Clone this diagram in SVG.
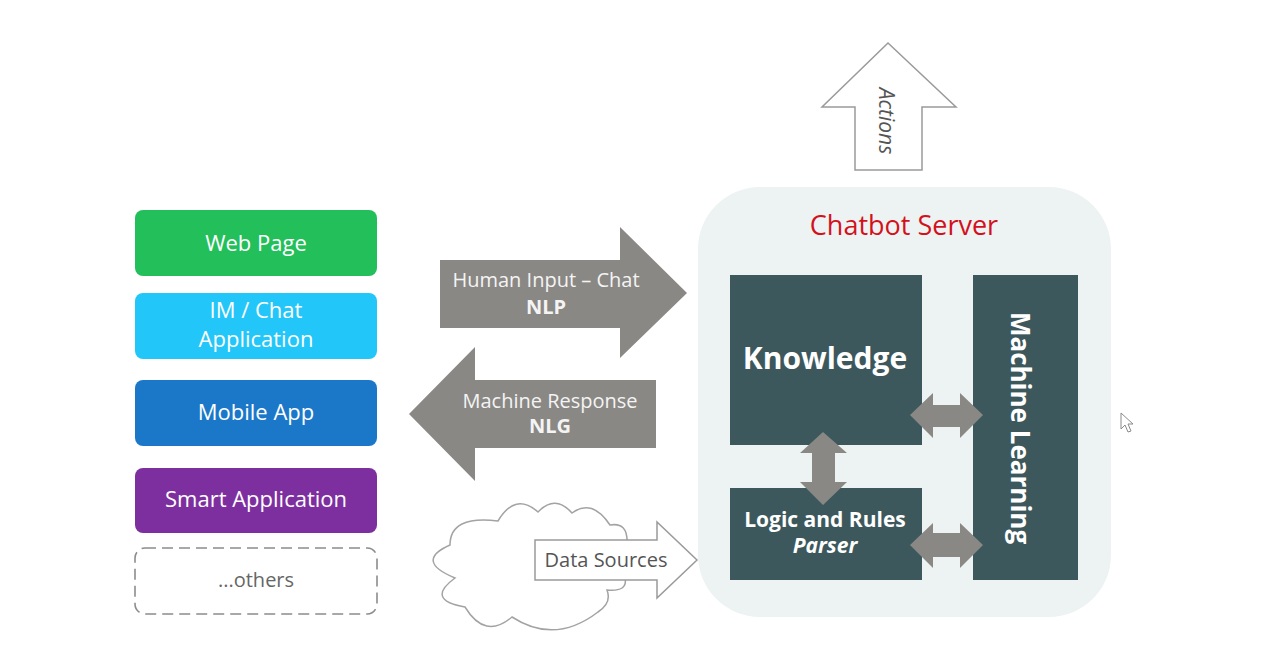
<svg xmlns="http://www.w3.org/2000/svg" width="1261" height="664" viewBox="0 0 1261 664">
<style>
.t{font-family:"Open Sans","Noto Sans","Liberation Sans",sans-serif}
.w{fill:#ffffff}
.lbl{font-size:22px;text-anchor:middle}
.dark{fill:#3c585c}
.garrow{fill:#8a8884}
.wt{fill:#f4f4f4;font-size:20px;text-anchor:middle}
</style>
<rect width="1261" height="664" fill="#ffffff"/>

<!-- Client nodes -->
<g id="web-page">
<rect x="135" y="210" width="242" height="66" rx="8" fill="#22bf5b"/>
<text class="t w lbl" x="256" y="251">Web Page</text>
</g>
<g id="im-chat">
<rect x="135" y="293" width="242" height="66" rx="8" fill="#23c6f9"/>
<text class="t w lbl" x="256" y="318">IM / Chat</text>
<text class="t w lbl" x="256" y="347">Application</text>
</g>
<g id="mobile-app">
<rect x="135" y="380" width="242" height="66" rx="8" fill="#1b78c9"/>
<text class="t w lbl" x="256" y="420">Mobile App</text>
</g>
<g id="smart-app">
<rect x="135" y="468" width="242" height="65" rx="8" fill="#7e2f9f"/>
<text class="t w lbl" x="256" y="507">Smart Application</text>
</g>
<g id="others">
<rect x="135" y="548" width="242" height="66" rx="10" fill="none" stroke="#8c8c8c" stroke-width="1.6" stroke-dasharray="11 6"/>
<text class="t" x="256" y="587" font-size="20" text-anchor="middle" fill="#666666">...others</text>
</g>

<!-- Chatbot server -->
<g id="chatbot-server">
<rect x="698" y="187" width="413" height="430" rx="62" fill="#edf3f2"/>
<text class="t" x="904" y="235" font-size="27" text-anchor="middle" fill="#d3111c">Chatbot Server</text>
</g>
<g id="knowledge">
<rect class="dark" x="730" y="275" width="192" height="170"/>
<text class="t w" x="825" y="369" font-size="30" font-weight="bold" text-anchor="middle">Knowledge</text>
</g>
<g id="logic-rules">
<rect class="dark" x="730" y="488" width="192" height="92"/>
<text class="t w" x="825" y="527" font-size="21" font-weight="bold" text-anchor="middle">Logic and Rules</text>
<text class="t w" x="825" y="553" font-size="21" font-weight="bold" font-style="italic" text-anchor="middle">Parser</text>
</g>
<g id="machine-learning">
<rect class="dark" x="973" y="275" width="105" height="305"/>
<text class="t w" transform="translate(1021 428) rotate(90)" font-size="26" font-weight="bold" text-anchor="middle" dominant-baseline="central">Machine Learning</text>
</g>

<!-- Data sources cloud -->
<g id="data-sources-cloud">
<path d="M455 578 Q414 561 450 545 Q450 515 498 521 Q515 492 538 512 Q555 494 572 513 Q592 498 610 525 Q628 522 627 543 L625 578 Q628 592 607 590 Q612 603 598 612 Q555 645 512 617 Q485 640 465 607 Q425 600 455 578 Z" fill="#ffffff" stroke="#a3a3a3" stroke-width="1.5"/>
</g>

<!-- Actions -->
<g id="actions">
<polygon points="888,43 956,107 922,107 922,170 855,170 855,107 822,107" fill="#ffffff" stroke="#9a9a9a" stroke-width="1.5"/>
<text class="t" transform="translate(887 121) rotate(90)" font-size="21" font-style="italic" text-anchor="middle" dominant-baseline="central" fill="#555555">Actions</text>
</g>

<!-- Connectors -->
<g id="connectors">
<g id="human-input">
<polygon class="garrow" points="440,260 620,260 620,227 687,293 620,358 620,328 440,328"/>
<text class="t wt" x="546" y="287">Human Input – Chat</text>
<text class="t wt" x="546" y="314" font-weight="bold">NLP</text>
</g>
<g id="machine-response">
<polygon class="garrow" points="656,380 475,380 475,347 409,414 475,481 475,448 656,448"/>
<text class="t wt" x="550" y="408">Machine Response</text>
<text class="t wt" x="550" y="433" font-weight="bold">NLG</text>
</g>
<g id="data-sources">
<polygon points="535,540 657,540 657,522 697,560 657,598 657,580 535,580" fill="#ffffff" stroke="#9a9a9a" stroke-width="1.5"/>
<text class="t" x="606" y="567" font-size="20" text-anchor="middle" fill="#555555">Data Sources</text>
</g>
<polygon class="garrow" points="910,415 933,393 933,405 960,405 960,393 983,415 960,438 960,427 933,427 933,438"/>
<polygon class="garrow" points="910,545 933,523 933,533 960,533 960,523 983,545 960,568 960,557 933,557 933,568"/>
<polygon class="garrow" points="823,432 847,453 835,453 835,482 847,482 823,505 800,482 812,482 812,453 800,453"/>
</g>

<!-- cursor -->
<path d="M1121 413 L1121 429 L1125 425 L1128 432 L1131 431 L1128 424 L1133 424 Z" fill="#ffffff" stroke="#8a8a8a" stroke-width="1"/>
</svg>
